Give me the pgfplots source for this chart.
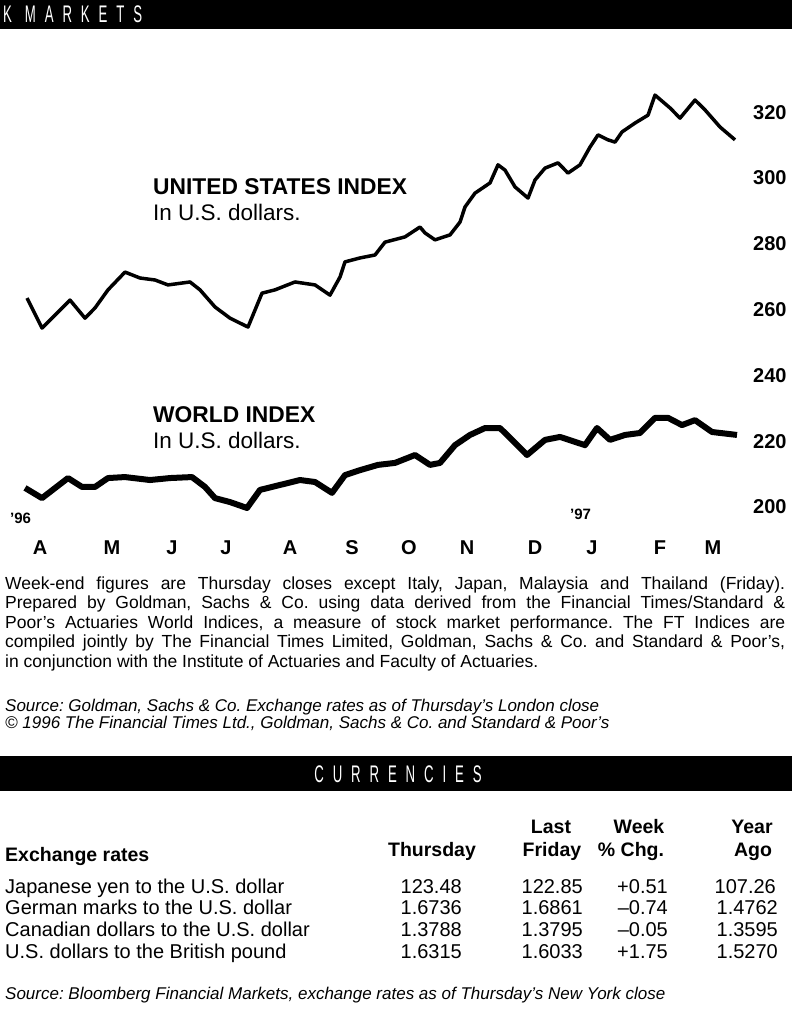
\documentclass[border=0pt]{standalone}
\usepackage{fontspec}
\setmainfont{Liberation Sans}
\newfontfamily\barfont[FakeStretch=0.55,LetterSpace=37]{Liberation Sans}
\usepackage{pgfplots}
\pgfplotsset{compat=1.18}
\begin{document}
\frenchspacing
\begin{tikzpicture}[x=1pt,y=1pt]
\path[use as bounding box] (0,0) rectangle (792,-1032);
\fill[white] (0,0) rectangle (792,-1032);
% top header bar
\fill[black] (0,0) rectangle (792,-29);
\node[anchor=base west, inner sep=0pt, text=white] at (3,-23) {\barfont\fontsize{24}{24}\selectfont K\hspace{13pt}MARKETS};

\begin{axis}[
  at={(0pt,-539.9pt)}, anchor=south west,
  scale only axis, width=740pt, height=460.6pt,
  xmin=0, xmax=740, ymin=190, ymax=330,
  axis line style={draw=none}, major tick length=0pt,
  clip=false,
  ytick={200,220,240,260,280,300,320},
  yticklabel pos=right,
  /pgf/number format/assume math mode=true,
  yticklabel style={anchor=west, inner sep=0pt, xshift=13pt, font=\fontsize{20}{20}\selectfont\bfseries},
  xtick={40,112,172,226,290,352,409,467,535,592,660,713},
  xticklabels={A,M,J,J,A,S,O,N,D,J,F,M},
  xticklabel style={anchor=base, inner sep=0pt, yshift=-15pt, font=\fontsize{20}{20}\selectfont\bfseries},
]
% United States index
\addplot[black, line width=3.5pt, line join=round, no markers] coordinates {
(27,263.5) (42,254.4) (70,262.9) (85,257.4) (95,260.5) (108,266.0) (125,271.4)
(140,269.6) (155,269.0) (168,267.5) (190,268.4) (200,266.0) (215,260.8) (230,257.4)
(248,254.7) (262,265.0) (275,266.0) (295,268.4) (315,267.5) (330,264.4) (340,269.9)
(345,274.5) (360,275.7) (375,276.6) (385,280.5) (405,282.1) (420,285.1) (425,283.3)
(435,281.2) (450,282.7) (460,286.6) (465,291.2) (475,295.4) (490,298.5) (498,304.0)
(505,302.4) (515,297.3) (528,293.9) (535,299.4) (545,303.0) (558,304.6) (568,301.5)
(580,304.0) (590,309.4) (598,313.1) (608,311.6) (615,310.9) (622,314.0) (635,316.7)
(648,319.1) (655,325.2) (670,321.3) (680,318.2) (695,323.7) (705,320.7) (720,315.5)
(735,311.6)
};
% World index
\addplot[black, line width=6pt, line join=round, no markers] coordinates {
(25,205.8) (42,202.7) (68,208.8) (82,206.1) (95,206.1) (108,208.8) (125,209.1)
(150,208.2) (170,208.8) (192,209.1) (205,206.1) (215,202.7) (230,201.5) (247,199.7)
(260,205.2) (280,206.7) (300,208.2) (315,207.6) (332,204.3) (345,209.7) (360,211.2)
(378,212.8) (395,213.4) (415,215.8) (430,212.8) (440,213.4) (455,218.8) (470,221.9)
(485,224.0) (500,224.0) (512,220.4) (527,215.8) (545,220.4) (560,221.3) (585,218.8)
(597,224.0) (610,220.4) (625,221.9) (640,222.5) (655,227.1) (668,227.1) (682,224.9)
(695,226.4) (712,222.8) (737,221.9)
};
\end{axis}

% chart annotations
\node[anchor=base west, inner sep=0pt] at (153,-195) {\fontsize{22.8}{22.8}\selectfont\bfseries UNITED STATES INDEX};
\node[anchor=base west, inner sep=0pt] at (153,-221) {\fontsize{22.5}{22.5}\selectfont In U.S. dollars.};
\node[anchor=base west, inner sep=0pt] at (153,-422) {\fontsize{22.8}{22.8}\selectfont\bfseries WORLD INDEX};
\node[anchor=base west, inner sep=0pt] at (153,-448) {\fontsize{22.5}{22.5}\selectfont In U.S. dollars.};
\node[anchor=base west, inner sep=0pt] at (10,-523) {\fontsize{15}{15}\selectfont\bfseries '96};
\node[anchor=base west, inner sep=0pt] at (570,-519) {\fontsize{15}{15}\selectfont\bfseries '97};

% notes
\node[anchor=base west, inner sep=0pt] at (5,-589) {\parbox[t]{780pt}{\fontsize{17.5}{19.6}\selectfont\hyphenpenalty=10000\frenchspacing
Week-end figures are Thursday closes except Italy, Japan, Malaysia and Thailand (Friday).\linebreak
Prepared by Goldman, Sachs \& Co. using data derived from the Financial Times/Standard \&\linebreak
Poor's Actuaries World Indices, a measure of stock market performance. The FT Indices are\linebreak
compiled jointly by The Financial Times Limited, Goldman, Sachs \& Co. and Standard \& Poor's,\linebreak
in conjunction with the Institute of Actuaries and Faculty of Actuaries.}};
\node[anchor=base west, inner sep=0pt] at (5,-711) {\fontsize{17}{17}\selectfont\itshape Source: Goldman, Sachs \& Co. Exchange rates as of Thursday's London close};
\node[anchor=base west, inner sep=0pt] at (5,-728) {\fontsize{17}{17}\selectfont\itshape © 1996 The Financial Times Ltd., Goldman, Sachs \& Co. and Standard \& Poor's};

% currencies bar
\fill[black] (0,-756) rectangle (792,-791);
\node[anchor=base, inner sep=0pt, text=white] at (398,-782) {\barfont\fontsize{24}{24}\selectfont CURRENCIES};

% table headers
\begin{scope}[every node/.style={inner sep=0pt, font=\fontsize{19.5}{19.5}\selectfont\bfseries}]
\node[anchor=base west] at (5,-861) {Exchange rates};
\node[anchor=base] at (432,-856) {Thursday};
\node[anchor=base] at (551,-833) {Last};
\node[anchor=base] at (552,-856) {Friday};
\node[anchor=base] at (639,-833) {Week};
\node[anchor=base] at (631,-856) {\% Chg.};
\node[anchor=base] at (752,-833) {Year};
\node[anchor=base] at (753,-856) {Ago};
\end{scope}
% table rows
\begin{scope}[every node/.style={inner sep=0pt, font=\fontsize{20}{20}\selectfont}]
\node[anchor=base west] at (5,-893) {Japanese yen to the U.S. dollar};
\node[anchor=base east] at (462,-893) {123.48};
\node[anchor=base east] at (583,-893) {122.85};
\node[anchor=base east] at (668,-893) {+0.51};
\node[anchor=base east] at (776,-893) {107.26};
\node[anchor=base west] at (5,-914) {German marks to the U.S. dollar};
\node[anchor=base east] at (462,-914) {1.6736};
\node[anchor=base east] at (583,-914) {1.6861};
\node[anchor=base east] at (668,-914) {--0.74};
\node[anchor=base east] at (778,-914) {1.4762};
\node[anchor=base west] at (5,-936) {Canadian dollars to the U.S. dollar};
\node[anchor=base east] at (462,-936) {1.3788};
\node[anchor=base east] at (583,-936) {1.3795};
\node[anchor=base east] at (668,-936) {--0.05};
\node[anchor=base east] at (778,-936) {1.3595};
\node[anchor=base west] at (5,-958) {U.S. dollars to the British pound};
\node[anchor=base east] at (462,-958) {1.6315};
\node[anchor=base east] at (583,-958) {1.6033};
\node[anchor=base east] at (668,-958) {+1.75};
\node[anchor=base east] at (778,-958) {1.5270};
\end{scope}
\node[anchor=base west, inner sep=0pt] at (5,-999) {\fontsize{17}{17}\selectfont\itshape Source: Bloomberg Financial Markets, exchange rates as of Thursday's New York close};
\end{tikzpicture}
\end{document}
